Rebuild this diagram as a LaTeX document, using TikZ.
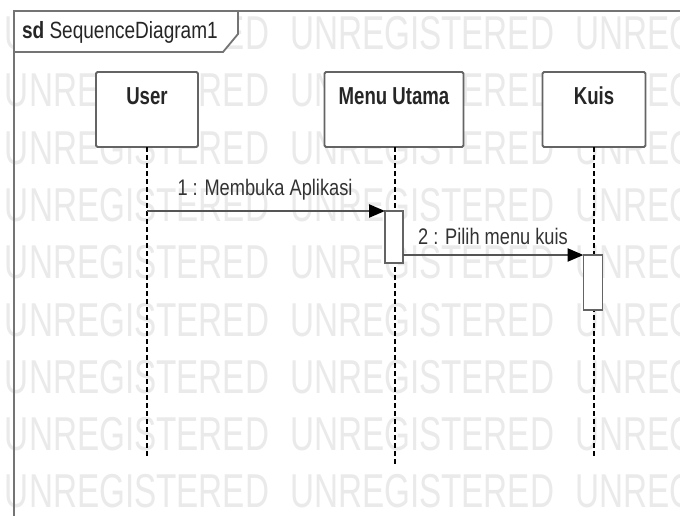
\documentclass[tikz,border=0pt]{standalone}
\usepackage{fontspec}
\setmainfont{Liberation Sans}[FakeStretch=0.81]
\newfontfamily\namefont{Liberation Sans}[FakeStretch=0.76]
\newfontfamily\wmfont{Liberation Sans}[FakeStretch=0.70]
\usetikzlibrary{arrows.meta}

\definecolor{edgegray}{RGB}{100,100,100}
\definecolor{msggray}{RGB}{85,85,85}
\definecolor{wmgray}{RGB}{234,234,234}

\tikzset{
  every node/.style={inner sep=0pt, outer sep=0pt},
  lifebox/.style={draw=edgegray, line width=1.8pt, fill=white, rounded corners=1.5pt,
                  minimum width=102pt, minimum height=75pt},
  boxname/.style={font=\namefont\bfseries\fontsize{24.5}{26}\selectfont, text=black!85},
  lifeline/.style={draw=black, line width=1.2pt, dash pattern=on 5pt off 3pt},
  actbox/.style={draw=edgegray, line width=1.6pt, fill=white, minimum width=18pt},
  msg/.style={draw=msggray, line width=2.4pt,
              -{Triangle[length=16pt, width=13pt, fill=black, color=black]}},
  msglabel/.style={font=\fontsize{22.5}{24}\selectfont, text=black!80},
  watermark/.style={font=\wmfont\fontsize{47.5}{50}\selectfont, text=wmgray, anchor=west},
  framestyle/.style={draw=edgegray!90, line width=1.8pt}
}

\begin{document}
\begin{tikzpicture}[x=1pt, y=-1pt]
\useasboundingbox (0,0) rectangle (680,515);
\clip (0,0) rectangle (680,515);
\fill[white] (0,0) rectangle (680,515);

% background watermark rows
\foreach \wy in {33,90,148,205,262,320,377,434,491}{
  \foreach \wx in {5,290,575}{
    \node[watermark] at (\wx,\wy) {UNREGISTERED};
  }
}

% diagram frame and its title tab
\draw[framestyle] (14,530) -- (14,11) -- (700,11);
\draw[framestyle, fill=white] (14,11) -- (238,11) -- (238,34) -- (223,52) -- (14,52) -- cycle;
\node[anchor=west, font=\fontsize{23.5}{25}\selectfont, text=black!85] (title) at (22,32)
  {\textbf{sd} SequenceDiagram1};

% participants
\node[lifebox] (user) at (147,109.5) {};
\node[lifebox, minimum width=139pt] (menu) at (394,109.5) {};
\node[lifebox, minimum width=103pt] (kuis) at (594,109.5) {};
\node[boxname] (userlbl) at (user.center |- 0,96) {User};
\node[boxname] (menulbl) at (menu.center |- 0,96) {Menu Utama};
\node[boxname] (kuislbl) at (kuis.center |- 0,96) {Kuis};

% lifeline ends
\coordinate (userend) at (147,456);
\coordinate (menuend) at (395,464);
\coordinate (kuisend) at (594,456);
\draw[lifeline] (user.south) -- (userend);
\draw[lifeline] (menu.south -| menuend) -- (menuend);
\draw[lifeline] (kuis.south) -- (kuisend);

% activation bars
\node[actbox, minimum height=52pt] (act1) at (394,237) {};
\node[actbox, minimum height=55pt, minimum width=19pt] (act2) at (593,282.5) {};

% messages
\coordinate (m1start) at (147,211);
\draw[msg] (m1start) -- (act1.north west);
\node[msglabel] (m1lbl) at (265,190) {1 : Membuka Aplikasi};

\draw[msg] (act1.east |- act2.north) -- (act2.north west);
\node[msglabel] (m2lbl) at (493,236) {2 : Pilih menu kuis};
\end{tikzpicture}
\end{document}
